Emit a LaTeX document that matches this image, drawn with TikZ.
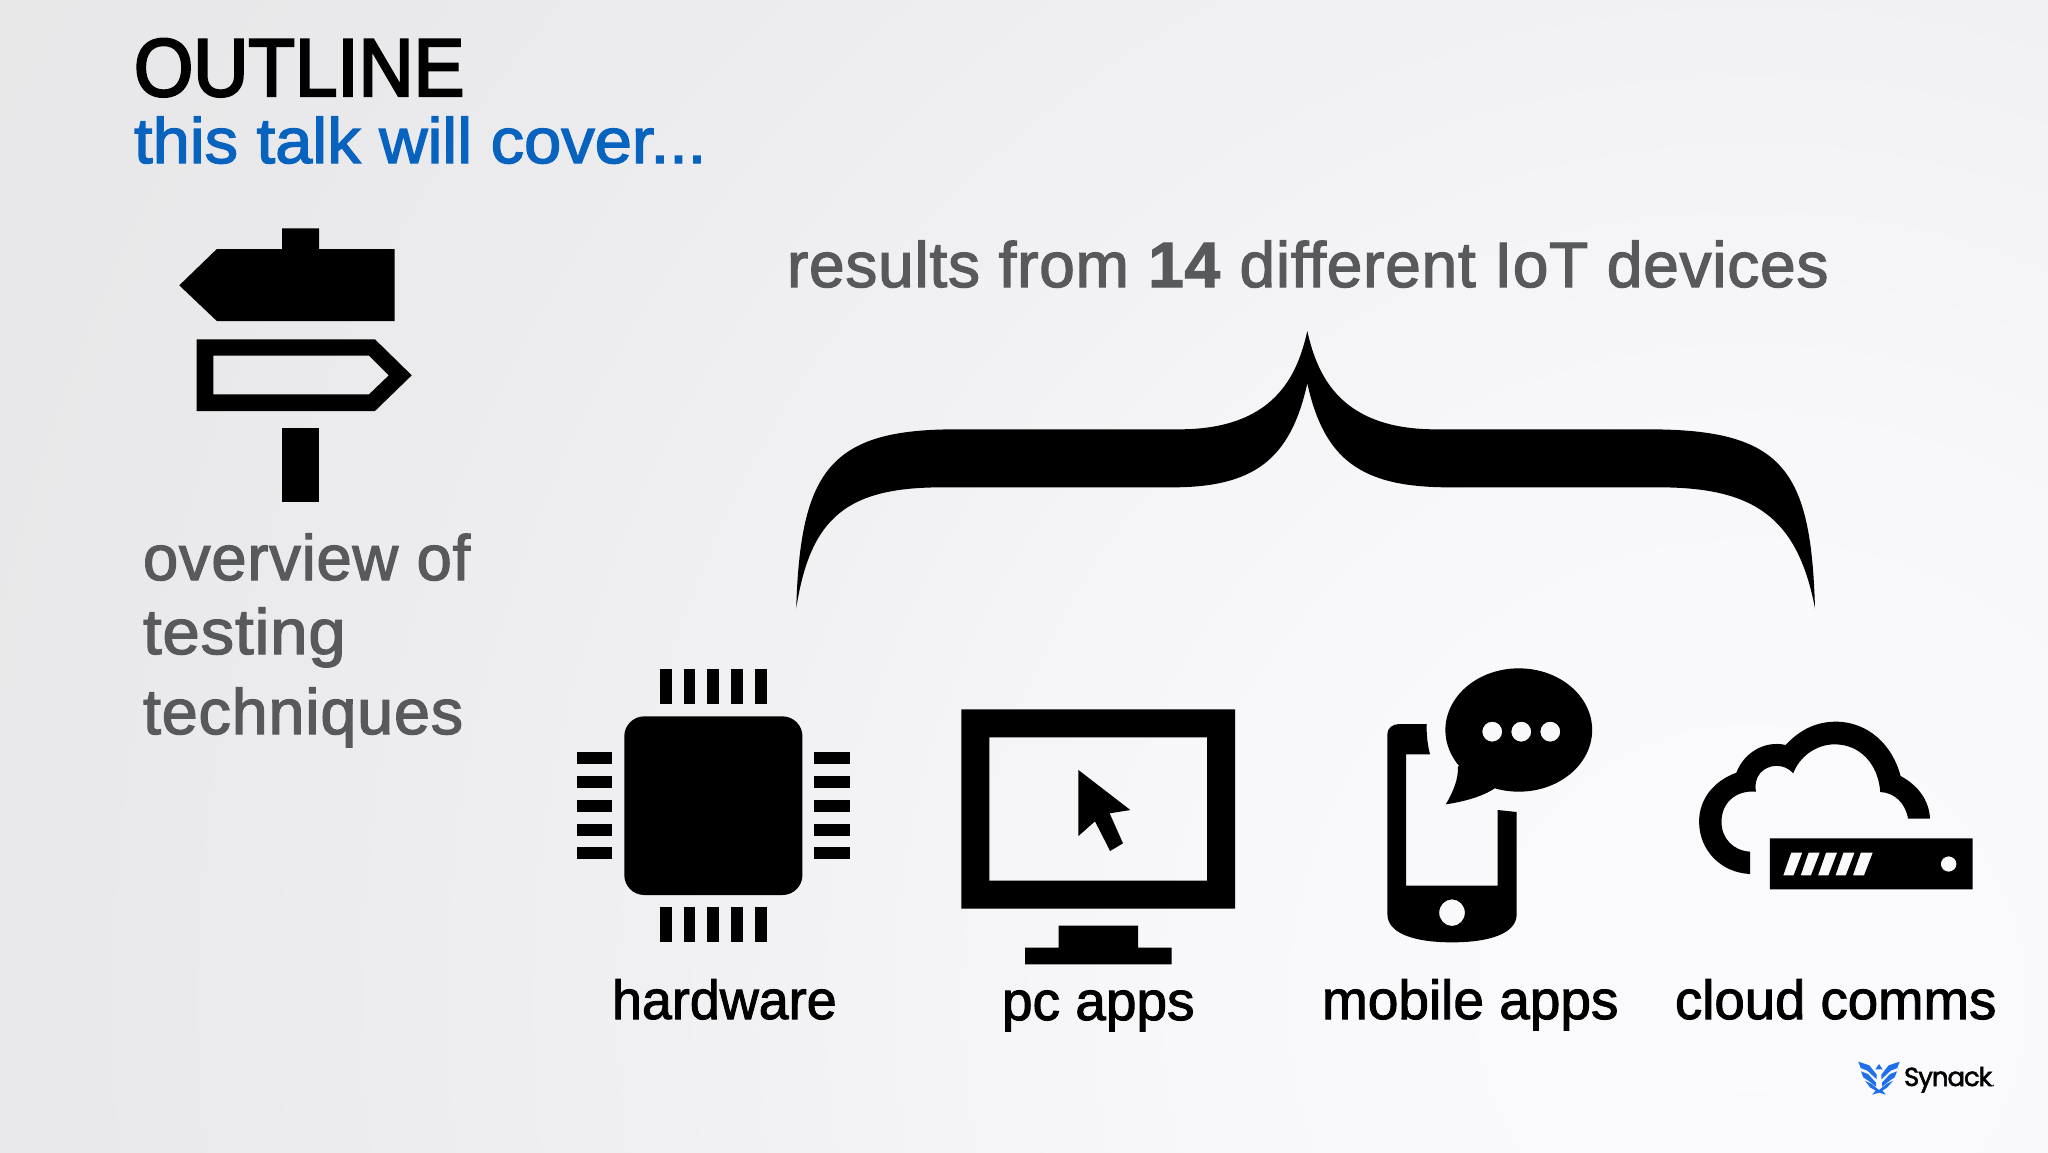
\documentclass[tikz,border=0pt]{standalone}
\usepackage{fontspec}
\setmainfont{Liberation Sans}
\newfontfamily\titlefont[FakeStretch=0.93,FakeBold=3]{Liberation Sans}
\newfontfamily\subfont[FakeStretch=1.045,FakeBold=2.2]{Liberation Sans}
\newfontfamily\bodyfont[LetterSpace=1.2,FakeBold=2]{Liberation Sans}
\newfontfamily\labelfont[FakeBold=1.8]{Liberation Sans}
\newfontfamily\logofont[LetterSpace=-4,FakeBold=2]{Poppins}
\definecolor{titleblue}{HTML}{0863BE}
\definecolor{bodygray}{HTML}{58595B}
\definecolor{logoblue}{HTML}{1F6FEA}
\definecolor{bgA}{HTML}{FBFBFD}
\definecolor{bgB}{HTML}{F8F8FA}
\definecolor{bgC}{HTML}{F0F0F2}
\definecolor{bgE}{HTML}{E9E9EB}
\definecolor{bgD}{HTML}{E4E4E5}
\pgfdeclareradialshading{bgglow}{\pgfpointorigin}{color(0bp)=(bgA); color(6.6bp)=(bgB); color(13bp)=(bgC); color(20bp)=(bgE); color(33bp)=(bgD); color(50bp)=(bgD)}
\tikzset{
  icon/.style={fill=black,draw=none},
  cutout/.style={fill=black,draw=none,even odd rule},
  lbl/.style={anchor=base west,inner sep=0pt,outer sep=0pt},
  iconlabel/.style={lbl,text=black,font=\labelfont\fontsize{55}{55}\selectfont},
  bodytext/.style={lbl,text=bodygray,font=\bodyfont\fontsize{64}{64}\selectfont},
  zoomA/.style={shift={(120,0)},xscale=0.3953,yscale=0.33333},
  zoomB/.style={shift={(560,650)},xscale=0.4592,yscale=0.33333},
  zoomC/.style={shift={(1360,650)},xscale=0.41454,yscale=0.33333},
  zoomD/.style={shift={(1830,1040)},xscale=0.33333,yscale=0.33333},
  zoomE/.style={shift={(780,320)},xscale=0.67602,yscale=0.33333},
}
\begin{document}
\begin{tikzpicture}[x=1pt,y=-1pt]
\useasboundingbox (0,0) rectangle (2048,1152);
\begin{scope}
\clip (0,0) rectangle (2048,1152);
\fill[bgD] (0,0) rectangle (2048,1152);
\shade[shading=bgglow] (1750,1000) circle (2100);
\end{scope}

% texts
\node[lbl,text=black,font=\titlefont\fontsize{82}{82}\selectfont] (title) at (134,96) {OUTLINE};
\node[lbl,text=titleblue,font=\subfont\fontsize{64}{64}\selectfont] (subtitle) at (134,163) {this talk will cover...};
\node[bodytext] (results) at (787,287) {results from \textbf{14} different IoT devices};
\node[bodytext,xscale=0.99,transform shape] (ov1) at (143,580) {overview of};
\node[bodytext,xscale=1.05,transform shape] (ov2) at (143,654) {testing};
\node[bodytext,xscale=1.012,transform shape] (ov3) at (143,734) {techniques};
\node[iconlabel,xscale=0.98,transform shape] (lhw) at (612,1019) {hardware};
\node[iconlabel] (lpc) at (1002,1020) {pc apps};
\node[iconlabel] (lmb) at (1322,1019) {mobile apps};
\node[iconlabel,xscale=0.992,transform shape] (lcl) at (1675,1019) {cloud comms};

% signpost
\begin{scope}[zoomA]
\fill[icon] (410,685) -- (504,685) -- (504,747) -- (695,747) -- (695,963) -- (245,963) -- (150,856) -- (245,747) -- (410,747) -- cycle;
\fill[cutout] (194,1018) -- (645,1018) -- (738,1126) -- (645,1233) -- (194,1233) -- cycle
  (236,1067) -- (630,1067) -- (680,1126) -- (630,1183) -- (236,1183) -- cycle;
\fill[icon] (410,1285) rectangle (504,1505);
\end{scope}

% brace
\begin{scope}[zoomE]
\fill[icon] (780,33) .. controls (795,170) and (830,328) .. (970,328) -- (1285,328)
  .. controls (1485,328) and (1525,450) .. (1531,865)
  .. controls (1505,590) and (1440,502) .. (1300,502) -- (990,502)
  .. controls (860,502) and (805,420) .. (780,190)
  .. controls (755,420) and (700,502) .. (580,502) -- (240,502)
  .. controls (100,502) and (45,590) .. (24,865)
  .. controls (30,450) and (75,328) .. (260,328) -- (590,328)
  .. controls (730,328) and (765,170) .. (780,33) -- cycle;
\end{scope}

% chip and monitor
\begin{scope}[zoomB]
\foreach \px in {217,269,321,373,425}{
  \fill[icon] (\px,56) rectangle ++(26,107);
  \fill[icon] (\px,770) rectangle ++(26,107);
}
\foreach \py in {307,378,450,521,592}{
  \fill[icon] (36,\py) rectangle ++(78,36);
  \fill[icon] (554,\py) rectangle ++(78,36);
}
\fill[icon,rounded corners=20pt] (140,199) rectangle (528,735);
\fill[cutout] (874,178) rectangle (1470,776) (935,262) rectangle (1409,692);
\fill[icon] (1086,827) -- (1259,827) -- (1259,893) -- (1332,893) -- (1332,943) -- (1013,943) -- (1013,893) -- (1086,893) -- cycle;
\fill[icon] (1129,360) -- (1242,480) -- (1197,490) -- (1226,580) -- (1198,603) -- (1165,514) -- (1129,558) -- cycle;
\end{scope}

% phone and cloud
\begin{scope}[zoomC]
\fill[cutout] (161,222) -- (95,222) .. controls (78,222) and (66,235) .. (66,252) -- (66,792)
  .. controls (66,850) and (130,877) .. (222,877) .. controls (314,877) and (378,850) .. (378,792)
  -- (378,486) -- (332,480) -- (332,707) -- (111,707) -- (111,313) -- (169,313)
  .. controls (163,285) and (160,255) .. (161,222) -- cycle
  (222,788) ellipse (31 and 40);
\fill[cutout] (383,240) ellipse (177 and 185)
  (319,245) ellipse (24 and 30) (389,245) ellipse (24 and 30) (459,245) ellipse (24 and 30);
\fill[icon] (236,350) .. controls (238,385) and (225,425) .. (207,463)
  .. controls (250,455) and (295,440) .. (325,415) -- (300,300) -- cycle;
\fill[icon] (941,672) .. controls (870,668) and (818,600) .. (818,515)
  .. controls (818,445) and (855,392) .. (908,368)
  .. controls (925,310) and (975,270) .. (1027,285)
  .. controls (1060,240) and (1100,215) .. (1148,215)
  .. controls (1225,215) and (1285,285) .. (1304,378)
  .. controls (1345,405) and (1373,450) .. (1375,506)
  -- (1322,506)
  .. controls (1316,460) and (1290,428) .. (1255,426)
  .. controls (1250,340) and (1205,283) .. (1145,283)
  .. controls (1100,283) and (1060,320) .. (1045,370)
  .. controls (1025,340) and (985,340) .. (965,370)
  .. controls (955,385) and (952,405) .. (955,425)
  .. controls (905,420) and (872,460) .. (872,515)
  .. controls (872,565) and (900,602) .. (941,605) -- cycle;
\fill[cutout] (989,565) rectangle (1478,718)
  (1420,642) ellipse (19 and 23)
  (1040,608) -- (1067,608) -- (1046,676) -- (1021,676) -- cycle
  (1082,608) -- (1109,608) -- (1088,676) -- (1063,676) -- cycle
  (1124,608) -- (1151,608) -- (1130,676) -- (1105,676) -- cycle
  (1166,608) -- (1193,608) -- (1172,676) -- (1147,676) -- cycle
  (1208,608) -- (1237,608) -- (1216,676) -- (1189,676) -- cycle;
\end{scope}

% logo
\node[lbl,text=black,font=\logofont\fontsize{26}{26}\selectfont] (logo) at (1904,1086) {Synack{\fontsize{10}{10}\selectfont.}};
\begin{scope}[zoomD]
\fill[logoblue] (147,72) -- (158,88) -- (136,88) -- cycle;
\fill[logoblue] (85,65) -- (118,76) -- (140,104) -- (140,118) -- (112,92) -- (92,84) -- cycle;
\fill[logoblue] (209,65) -- (176,76) -- (154,104) -- (154,118) -- (182,92) -- (202,84) -- cycle;
\fill[logoblue] (93,94) -- (114,102) -- (138,128) -- (138,140) -- (112,120) -- (100,112) -- cycle;
\fill[logoblue] (201,94) -- (180,102) -- (156,128) -- (156,140) -- (182,120) -- (194,112) -- cycle;
\fill[logoblue] (105,122) -- (125,132) -- (147,150) -- (169,132) -- (189,122) -- (172,142) -- (157,152) -- (168,164) -- (147,158) -- (126,164) -- (137,152) -- (120,142) -- cycle;
\end{scope}
\end{tikzpicture}
\end{document}
